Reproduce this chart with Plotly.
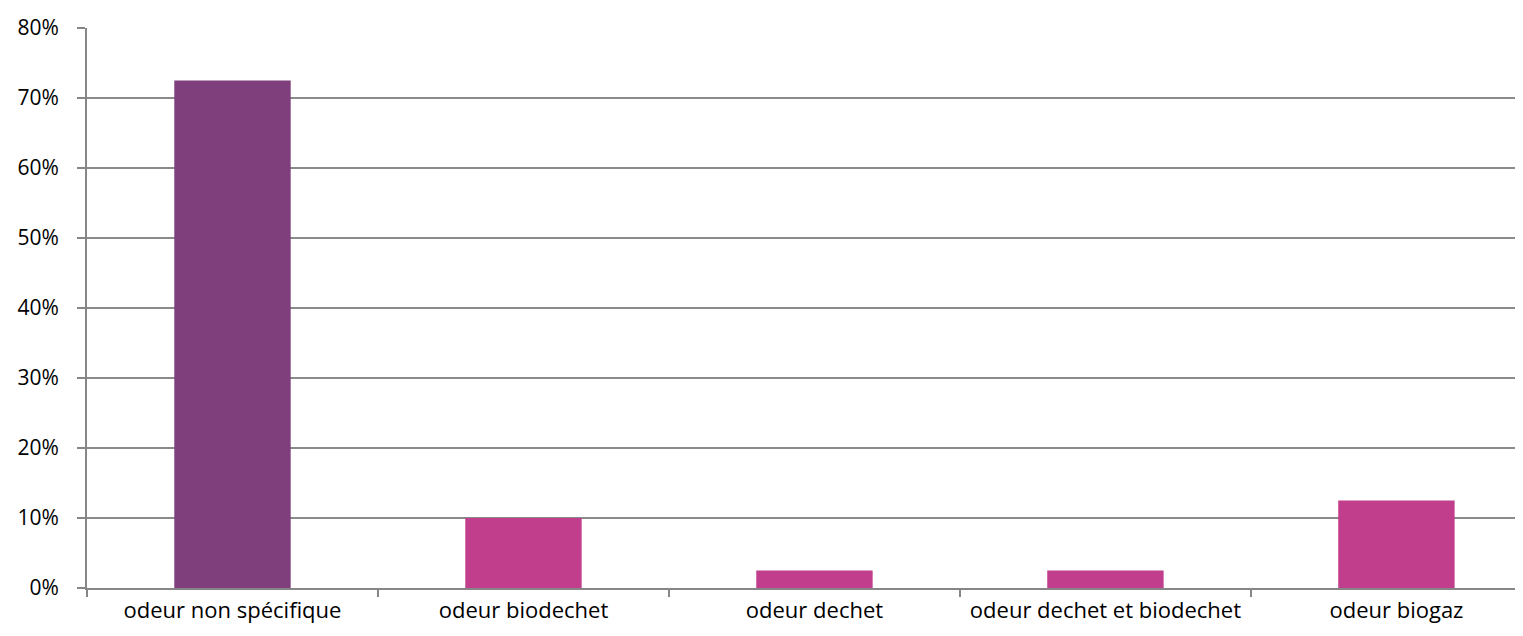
import plotly.graph_objects as go

categories = ["odeur non spécifique", "odeur biodechet", "odeur dechet",
              "odeur dechet et biodechet", "odeur biogaz"]
values = [0.725, 0.10, 0.025, 0.025, 0.125]
colors = ["#7F3F7D", "#C13E8C", "#C13E8C", "#C13E8C", "#C13E8C"]
y_ticks = [0, 0.1, 0.2, 0.3, 0.4, 0.5, 0.6, 0.7, 0.8]

fig = go.Figure(go.Bar(x=categories, y=values, marker=dict(color=colors, line=dict(width=0)),
                       width=0.4))

fig.update_layout(
    width=1515, height=628,
    margin=dict(l=79, r=0, t=20, b=48),
    paper_bgcolor="white", plot_bgcolor="white",
    font=dict(family="Open Sans", size=21, color="black"),
    showlegend=False,
)
fig.update_xaxes(
    type="category", range=[-0.5, 4.435],
    showline=True, linecolor="#868686", linewidth=2,
    ticks="outside", tickson="boundaries", ticklen=7, tickcolor="#868686", tickwidth=1.5,
    showgrid=False, ticklabelstandoff=2, tickfont=dict(size=22),
)
fig.update_yaxes(
    range=[0, 0.8], tickvals=y_ticks, tickformat=".0%",
    showline=True, linecolor="#868686", linewidth=2,
    showgrid=True, gridcolor="#8A8A8A", gridwidth=1.5,
    ticks="outside", ticklen=8, tickcolor="#868686", tickwidth=1.5,
    zeroline=False, ticklabelstandoff=14, tickfont=dict(size=21),
)

fig.write_html("out.html")
